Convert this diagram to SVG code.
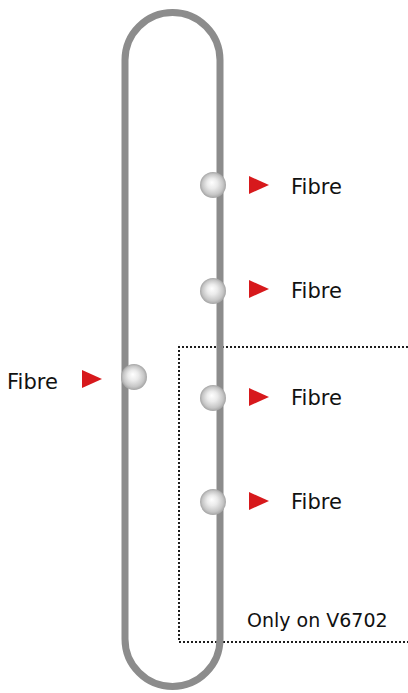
<svg xmlns="http://www.w3.org/2000/svg" width="408" height="693" viewBox="0 0 408 693">
  <defs>
    <radialGradient id="ballGrad" cx="0.5" cy="0.5" r="0.5" fx="0.45" fy="0.4">
      <stop offset="0" stop-color="#ffffff"/>
      <stop offset="0.4" stop-color="#ebebeb"/>
      <stop offset="0.8" stop-color="#c6c6c6"/>
      <stop offset="1" stop-color="#a4a4a4"/>
    </radialGradient>
    <style>
      .track { fill: none; stroke: #8c8c8c; stroke-width: 7; }
      .zone { fill: none; stroke: #1e1e1e; stroke-width: 2; stroke-dasharray: 2 2; }
      .ball { fill: url(#ballGrad); }
      .arrow { fill: #d7191c; }
      .label { font-family: "DejaVu Sans", Verdana, sans-serif; font-size: 21px; fill: #111111; }
      .note { font-family: "DejaVu Sans", Verdana, sans-serif; font-size: 19px; fill: #111111; }
    </style>
  </defs>
  <rect width="408" height="693" fill="#ffffff"/>

  <g id="zone-v6702">
    <polyline class="zone" points="408,347 179,347 179,642 408,642"/>
    <text class="note" x="247" y="627">Only on V6702</text>
  </g>

  <g id="connectors">
    <rect class="track" x="125" y="12.5" width="95" height="674" rx="47.5" ry="47.5"/>
  </g>

  <g id="port-left">
    <circle class="ball" cx="134" cy="377" r="13"/>
    <polygon class="arrow" points="82,370 102,379 82,388"/>
    <text class="label" x="7" y="389">Fibre</text>
  </g>

  <g id="port-1">
    <circle class="ball" cx="213" cy="185" r="13"/>
    <polygon class="arrow" points="249,176 269,185 249,194"/>
    <text class="label" x="291" y="194">Fibre</text>
  </g>

  <g id="port-2">
    <circle class="ball" cx="213" cy="291" r="13"/>
    <polygon class="arrow" points="249,280 269,289 249,298"/>
    <text class="label" x="291" y="298">Fibre</text>
  </g>

  <g id="port-3">
    <circle class="ball" cx="213" cy="398" r="13"/>
    <polygon class="arrow" points="249,388 269,397 249,406"/>
    <text class="label" x="291" y="405">Fibre</text>
  </g>

  <g id="port-4">
    <circle class="ball" cx="213" cy="502" r="13"/>
    <polygon class="arrow" points="249,492 269,501 249,510"/>
    <text class="label" x="291" y="509">Fibre</text>
  </g>
</svg>
